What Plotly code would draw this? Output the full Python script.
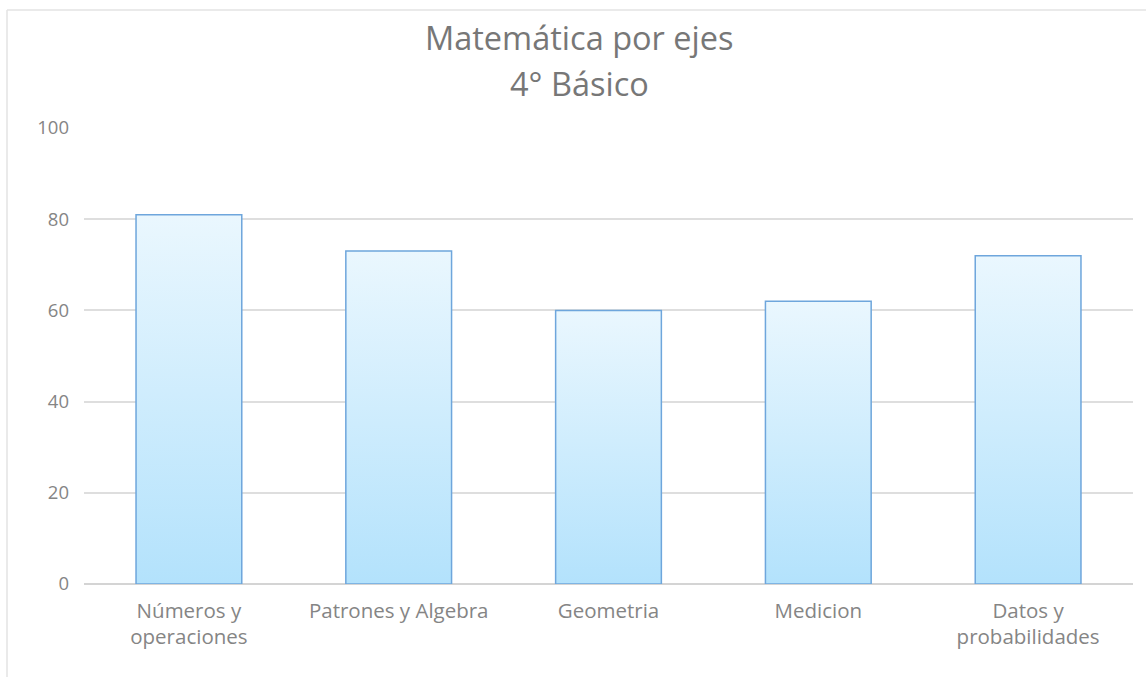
import plotly.graph_objects as go

# Datos: logro por eje de Matemática, 4° Básico
categorias = ["Números y<br>operaciones", "Patrones y Algebra", "Geometria", "Medicion", "Datos y<br>probabilidades"]
valores = [81, 73, 60, 62, 72]
ticks_y = [0, 20, 40, 60, 80, 100]
titulo = ["Matemática por ejes", "4° Básico"]

W, H = 1146, 677
ML, MR, MT, MB = 84, 13, 128, 93
media_barra = 0.252  # mitad del ancho de cada barra en unidades de categoría

plot_w = W - ML - MR
plot_h = H - MT - MB


def py(px):
    """Convierte una altura en píxeles (desde arriba) a coordenada paper."""
    return (H - MB - px) / plot_h


def pxx(px):
    """Convierte una posición horizontal en píxeles a coordenada paper."""
    return (px - ML) / plot_w


fig = go.Figure()

# Barras dibujadas como polígonos con relleno degradado vertical
for i, (cat, v) in enumerate(zip(categorias, valores)):
    x0, x1 = i - media_barra, i + media_barra
    nombre = cat.replace("<br>", " ")
    fig.add_trace(go.Scatter(
        x=[x0, x0, x1, x1, x0],
        y=[0, v, v, 0, 0],
        mode="lines",
        fill="toself",
        fillgradient=dict(type="vertical",
                          colorscale=[[0, "#b3e2fc"], [1, "#eaf7fe"]]),
        line=dict(color="#6ea6dc", width=1.5),
        hoveron="fills",
        name=nombre,
        text=f"{nombre}: {v}",
        hoverinfo="text",
        showlegend=False,
    ))

# Marco del área del gráfico (borde izquierdo y superior)
fig.add_shape(type="line", xref="paper", yref="paper", x0=pxx(7), x1=pxx(W + 5),
              y0=py(10), y1=py(10), line=dict(color="#e3e3e3", width=1.5), layer="below")
fig.add_shape(type="line", xref="paper", yref="paper", x0=pxx(7), x1=pxx(7),
              y0=py(10), y1=py(H + 5), line=dict(color="#e3e3e3", width=1.5), layer="below")

# Título en dos líneas
for texto, centro in zip(titulo, [37, 83]):
    fig.add_annotation(text=texto, xref="paper", yref="paper", x=pxx(W / 2 + 6), y=py(centro),
                       xanchor="center", yanchor="middle", showarrow=False,
                       font=dict(size=32.5, color="#777777"))

fig.update_layout(
    width=W, height=H,
    margin=dict(l=ML, r=MR, t=MT, b=MB),
    paper_bgcolor="white", plot_bgcolor="white",
    font=dict(family="Open Sans", color="#858585"),
    xaxis=dict(range=[-0.5, len(categorias) - 0.5],
               tickmode="array", tickvals=list(range(len(categorias))), ticktext=categorias,
               showgrid=False, zeroline=False, showline=False, ticks="",
               ticklabelstandoff=12,
               tickfont=dict(size=20.5, color="#858585"), fixedrange=True),
    yaxis=dict(range=[0, 100], tickvals=ticks_y, showgrid=True,
               gridcolor="#dedede", gridwidth=1.5, zeroline=True, zerolinecolor="#d4d4d4",
               zerolinewidth=1.5, showline=False, ticks="", ticklabelstandoff=14,
               tickfont=dict(size=18.5, color="#858585"), fixedrange=True),
)

fig.write_html("out.html")
